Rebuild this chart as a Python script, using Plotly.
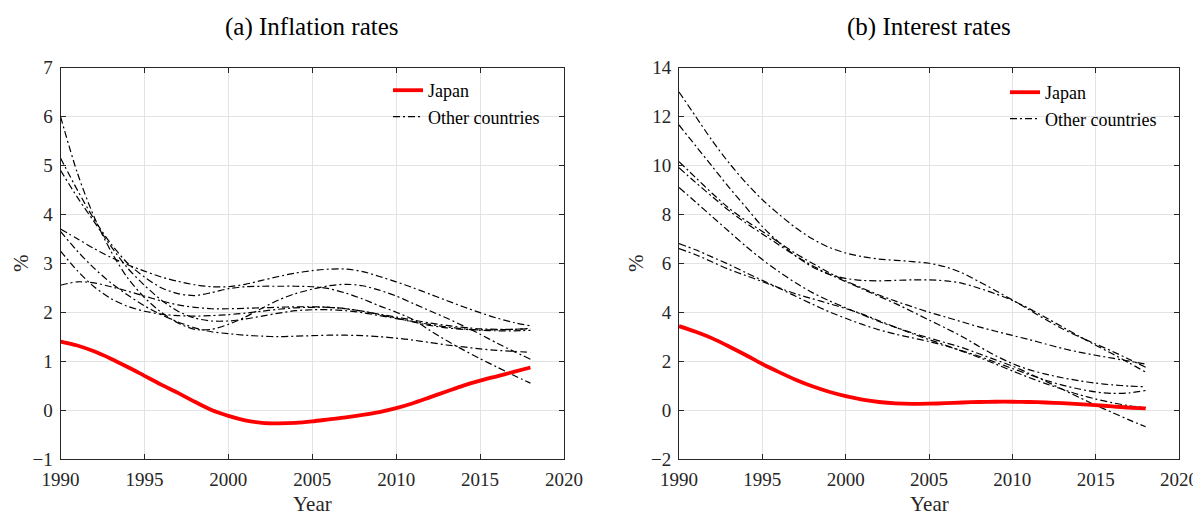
import plotly.graph_objects as go

# The page body adds an 8px margin, so the figure is sized and positioned to compensate.
OFF = 8
W, H = 1201 - OFF, 515 - OFF

years = list(range(1990, 2019))

# ---- (a) Inflation rates ----
infl_japan = [1.40, 1.32, 1.20, 1.05, 0.88, 0.70, 0.52, 0.35, 0.17, 0.00,
              -0.12, -0.21, -0.26, -0.27, -0.26, -0.23, -0.19, -0.15, -0.10, -0.04,
              0.04, 0.14, 0.26, 0.38, 0.50, 0.60, 0.69, 0.78, 0.87]
infl_a = [6.00, 4.85, 3.95, 3.25, 2.70, 2.30, 2.00, 1.78, 1.65, 1.65,
          1.75, 1.90, 2.08, 2.25, 2.38, 2.47, 2.54, 2.57, 2.54, 2.45,
          2.33, 2.18, 2.03, 1.88, 1.72, 1.55, 1.37, 1.20, 1.04]
infl_b = [5.15, 4.50, 3.90, 3.40, 3.00, 2.72, 2.50, 2.38, 2.34, 2.40,
          2.48, 2.52, 2.53, 2.53, 2.53, 2.52, 2.48, 2.39, 2.27, 2.13,
          2.00, 1.85, 1.63, 1.42, 1.23, 1.05, 0.88, 0.71, 0.55]
infl_c = [4.90, 4.35, 3.85, 3.35, 2.90, 2.55, 2.25, 2.02, 1.88, 1.82,
          1.82, 1.86, 1.92, 1.98, 2.03, 2.05, 2.05, 2.03, 1.99, 1.93,
          1.87, 1.81, 1.75, 1.70, 1.66, 1.63, 1.62, 1.62, 1.63]
infl_d = [3.70, 3.50, 3.30, 3.12, 2.97, 2.84, 2.72, 2.63, 2.56, 2.52,
          2.52, 2.57, 2.65, 2.73, 2.80, 2.85, 2.88, 2.88, 2.83, 2.73,
          2.62, 2.50, 2.37, 2.24, 2.11, 1.99, 1.88, 1.79, 1.72]
infl_e = [3.65, 3.25, 2.90, 2.60, 2.35, 2.13, 1.95, 1.80, 1.68, 1.60,
          1.56, 1.53, 1.51, 1.50, 1.51, 1.52, 1.53, 1.53, 1.52, 1.50,
          1.47, 1.43, 1.38, 1.33, 1.29, 1.25, 1.22, 1.20, 1.18]
infl_f = [3.25, 2.85, 2.52, 2.28, 2.12, 2.02, 1.96, 1.93, 1.92, 1.93,
          1.95, 1.98, 2.02, 2.06, 2.09, 2.10, 2.10, 2.07, 2.02, 1.95,
          1.88, 1.80, 1.73, 1.68, 1.65, 1.64, 1.64, 1.65, 1.67]
infl_g = [2.55, 2.62, 2.60, 2.52, 2.43, 2.33, 2.23, 2.15, 2.10, 2.07,
          2.07, 2.08, 2.09, 2.10, 2.11, 2.11, 2.10, 2.07, 2.02, 1.96,
          1.90, 1.84, 1.78, 1.73, 1.69, 1.66, 1.65, 1.65, 1.66]

# ---- (b) Interest rates ----
int_japan = [3.43, 3.20, 2.93, 2.60, 2.25, 1.88, 1.55, 1.24, 0.97, 0.75,
             0.57, 0.43, 0.33, 0.27, 0.25, 0.26, 0.28, 0.31, 0.33, 0.34,
             0.34, 0.33, 0.31, 0.28, 0.24, 0.20, 0.15, 0.10, 0.07]
int_a = [13.00, 12.00, 11.00, 10.10, 9.30, 8.60, 8.00, 7.45, 7.00, 6.65,
         6.42, 6.27, 6.17, 6.12, 6.07, 6.00, 5.85, 5.60, 5.25, 4.88,
         4.50, 4.10, 3.70, 3.32, 3.00, 2.70, 2.40, 2.08, 1.75]
int_b = [11.65, 10.80, 9.95, 9.10, 8.30, 7.50, 6.85, 6.30, 5.85, 5.55,
         5.38, 5.30, 5.28, 5.30, 5.32, 5.32, 5.28, 5.18, 4.98, 4.75,
         4.48, 4.15, 3.78, 3.40, 3.02, 2.65, 2.30, 1.93, 1.55]
int_c = [10.15, 9.50, 8.85, 8.25, 7.75, 7.30, 6.85, 6.40, 6.00, 5.62,
         5.28, 4.98, 4.70, 4.45, 4.22, 4.00, 3.80, 3.60, 3.40, 3.22,
         3.05, 2.88, 2.70, 2.52, 2.37, 2.24, 2.12, 2.00, 1.88]
int_d = [9.90, 9.30, 8.72, 8.15, 7.65, 7.20, 6.75, 6.30, 5.90, 5.55,
         5.25, 4.95, 4.65, 4.35, 4.02, 3.68, 3.35, 3.00, 2.60, 2.22,
         1.90, 1.65, 1.47, 1.32, 1.20, 1.10, 1.03, 0.98, 0.95]
int_e = [9.10, 8.50, 7.90, 7.30, 6.70, 6.15, 5.65, 5.20, 4.80, 4.47,
         4.18, 3.90, 3.62, 3.38, 3.15, 2.95, 2.75, 2.55, 2.30, 2.05,
         1.80, 1.50, 1.18, 0.85, 0.52, 0.20, -0.10, -0.40, -0.68]
int_f = [6.80, 6.55, 6.25, 5.95, 5.62, 5.30, 5.00, 4.75, 4.55, 4.35,
         4.15, 3.92, 3.65, 3.38, 3.12, 2.88, 2.65, 2.40, 2.15, 1.88,
         1.60, 1.33, 1.08, 0.85, 0.63, 0.45, 0.30, 0.18, 0.10]
int_g = [6.60, 6.35, 6.05, 5.75, 5.50, 5.25, 4.98, 4.65, 4.33, 4.02,
         3.75, 3.50, 3.28, 3.10, 2.95, 2.80, 2.62, 2.42, 2.20, 1.95,
         1.70, 1.45, 1.22, 1.02, 0.86, 0.74, 0.68, 0.70, 0.80]

x_ticks = [1990, 1995, 2000, 2005, 2010, 2015, 2020]
y_ticks_a = [-1, 0, 1, 2, 3, 4, 5, 6, 7]
y_ticks_b = [-2, 0, 2, 4, 6, 8, 10, 12, 14]

titles = ["(a) Inflation rates", "(b) Interest rates"]
legend_names = ["Japan", "Other countries"]

FONT = "Liberation Serif"
AX = "#262626"
GRID = "#e3e3e3"
DASHDOT = "7px,3px,2px,3px"

fig = go.Figure()

panels = [
    ("x", "y", "legend", infl_japan, [infl_a, infl_b, infl_c, infl_d, infl_e, infl_f, infl_g]),
    ("x2", "y2", "legend2", int_japan, [int_a, int_b, int_c, int_d, int_e, int_f, int_g]),
]

for xa, ya, lg, jp, others in panels:
    for i, s in enumerate(others):
        fig.add_trace(go.Scatter(
            x=years, y=s, xaxis=xa, yaxis=ya, mode="lines",
            line=dict(color="black", width=1.2, dash=DASHDOT, shape="spline", smoothing=0.8),
            name=legend_names[1], showlegend=(i == 0),
            legend=lg, legendrank=2, hoverinfo="skip"))
    fig.add_trace(go.Scatter(
        x=years, y=jp, xaxis=xa, yaxis=ya, mode="lines",
        line=dict(color="#ff0000", width=3.8, shape="spline", smoothing=0.8),
        name=legend_names[0], legend=lg, legendrank=1, hoverinfo="skip"))


def px_x(p):
    # p: pixel in the 1201x515 window
    return (p - OFF) / W


def px_y(p):
    return (H - (p - OFF)) / H


ydom = [px_y(459), px_y(67.5)]
xdom_a = [px_x(60.5), px_x(564)]
xdom_b = [px_x(679), px_x(1179)]

common = dict(
    showline=True, linecolor=AX, linewidth=1, mirror="ticks",
    ticks="inside", ticklen=5, tickcolor=AX, tickwidth=1,
    showgrid=True, gridcolor=GRID, gridwidth=1, zeroline=False,
    tickfont=dict(family=FONT, size=19, color=AX), automargin=False,
)

fig.update_layout(
    width=W, height=H, template="none",
    paper_bgcolor="white", plot_bgcolor="white",
    margin=dict(l=0, r=0, t=0, b=0),
    xaxis=dict(domain=xdom_a, range=[1990, 2020], tickvals=x_ticks, anchor="y",
               ticklabelstandoff=3, **common),
    yaxis=dict(domain=ydom, range=[-1, 7], tickvals=y_ticks_a, anchor="x",
               ticklabelstandoff=3, **common),
    xaxis2=dict(domain=xdom_b, range=[1990, 2020], tickvals=x_ticks, anchor="y2",
                ticklabelstandoff=3, **common),
    yaxis2=dict(domain=ydom, range=[-2, 14], tickvals=y_ticks_b, anchor="x2",
                ticklabelstandoff=3, **common),
    legend=dict(x=px_x(388), y=px_y(72), xanchor="left", yanchor="top",
                bgcolor="rgba(0,0,0,0)", borderwidth=0, tracegroupgap=0,
                font=dict(family=FONT, size=18, color="black")),
    legend2=dict(x=px_x(1005), y=px_y(74), xanchor="left", yanchor="top",
                 bgcolor="rgba(0,0,0,0)", borderwidth=0, tracegroupgap=0,
                 font=dict(family=FONT, size=18, color="black")),
    showlegend=True,
)

ann = []
for dom, t in zip([xdom_a, xdom_b], titles):
    ann.append(dict(text=t, x=(dom[0] + dom[1]) / 2, y=px_y(27), xref="paper", yref="paper",
                    xanchor="center", yanchor="middle", showarrow=False,
                    font=dict(family=FONT, size=25, color="black")))
    ann.append(dict(text="Year", x=(dom[0] + dom[1]) / 2, y=px_y(504), xref="paper", yref="paper",
                    xanchor="center", yanchor="middle", showarrow=False,
                    font=dict(family=FONT, size=21, color=AX)))
for xp in [21, 636]:
    ann.append(dict(text="%", x=px_x(xp), y=px_y(263), xref="paper", yref="paper",
                    xanchor="center", yanchor="middle", showarrow=False, textangle=-90,
                    font=dict(family=FONT, size=21, color=AX)))
fig.update_layout(annotations=ann)

fig.write_html("out.html")
